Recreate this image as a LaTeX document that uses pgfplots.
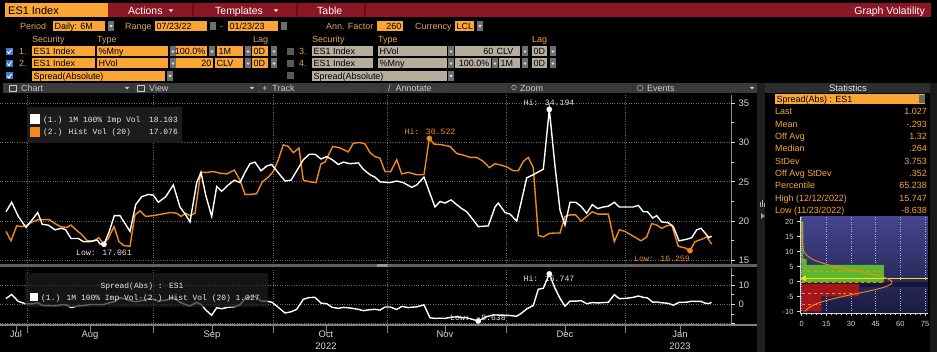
\documentclass[border=0pt]{standalone}
\usepackage{pgfplots}
\pgfplotsset{compat=1.18}
\usepackage{fontspec}
\setmainfont{Liberation Sans}
\newfontfamily\monof{Liberation Mono}
\definecolor{bborange}{HTML}{FBA534}
\definecolor{bbred}{HTML}{8B1626}
\definecolor{bbredsep}{HTML}{6A0E1A}
\definecolor{bbtan}{HTML}{B6AD9C}
\definecolor{bbtool}{HTML}{3A3A3A}
\definecolor{bblabel}{HTML}{E2A552}
\definecolor{bbline}{HTML}{F08A1C}
\definecolor{bbgrid}{HTML}{6A6A6A}
\definecolor{bbtickc}{HTML}{D8D8D8}
\definecolor{bbcheck}{HTML}{3C7CD6}
\definecolor{ddgrey}{HTML}{6E6E6E}
\definecolor{ddtri}{HTML}{E0E0E0}
\definecolor{histtop}{HTML}{45458E}
\definecolor{histbot}{HTML}{1B1B42}
\definecolor{histband}{HTML}{16163E}
\definecolor{bbgreen}{HTML}{5DB82E}
\definecolor{bbdred}{HTML}{A3161C}
\definecolor{bbyellow}{HTML}{F2E21A}
\newcommand\fs[1]{\fontsize{#1}{#1}\selectfont}
\newcommand\bxl[5]{\fill[#4] (#1,#3-5) rectangle (#2,#3+5); \node[anchor=base west,inner sep=0pt,text=black,font=\fs{9}] at (#1+1.5,#3+3.3) {#5};}
\newcommand\bxr[5]{\fill[#4] (#1,#3-5) rectangle (#2,#3+5); \node[anchor=base east,inner sep=0pt,text=black,font=\fs{9}] at (#2-1.5,#3+3.3) {#5};}
\newcommand\dd[2]{\fill[ddgrey] (#1,#2-5) rectangle (#1+6,#2+5); \fill[ddtri] (#1+1.3,#2-0.8) -- (#1+4.7,#2-0.8) -- (#1+3,#2+1.6) -- cycle;}
\newcommand\lbl[4]{\node[anchor=base west,inner sep=0pt,text=#4,font=\fs{9}] at (#1,#2+3.3) {#3};}
\newcommand\chk[2]{\fill[bbcheck] (#1,#2-3.5) rectangle (#1+7,#2+3.5); \draw[white,line width=0.9] (#1+1.4,#2) -- (#1+3,#2+2) -- (#1+5.6,#2-2);}
\newcommand\gchk[2]{\fill[black!65!white] (#1,#2-3.5) rectangle (#1+7,#2+3.5);}
\newcommand\tri[3]{\fill[#3] (#1-2.2,#2-1.1) -- (#1+2.2,#2-1.1) -- (#1,#2+1.5) -- cycle;}
\newcommand\stat[3]{\node[anchor=base west,inner sep=0pt,font=\fs{9},text=bborange] at (775,#1) {#2};
  \node[anchor=base east,inner sep=0pt,font=\fs{9},text=bborange] at (927,#1) {#3};}
\begin{document}
\begin{tikzpicture}
\useasboundingbox (0,0) rectangle (937bp,352bp);
\fill[black] (0,0) rectangle (937bp,352bp);
\begin{scope}[x=1bp,y=-1bp,yshift=352bp]
% row 1
\fill[bborange] (5,3) rectangle (108,17.5);
\node[anchor=base west,inner sep=0pt,font=\fs{11}] at (8,14.3) {ES1 Index};
\fill[bbred] (108,3) rectangle (931,17.5);
\foreach \s in {193,297,365} \draw[bbredsep,line width=1.2] (\s,3) -- (\s,17.5);
\node[anchor=base west,inner sep=0pt,font=\fs{10.5},text=white] at (128,14.2) {Actions};
\tri{171}{10.5}{white}
\node[anchor=base west,inner sep=0pt,font=\fs{10.5},text=white] at (215,14.2) {Templates};
\tri{276}{10.5}{white}
\node[anchor=base west,inner sep=0pt,font=\fs{10.5},text=white] at (317,14.2) {Table};
\node[anchor=base east,inner sep=0pt,font=\fs{10.5},text=white] at (925,14.2) {Graph Volatility};
% row 2
\lbl{20}{26}{Period}{bblabel}
\bxl{53}{105}{26}{bborange}{Daily: 6M}
\dd{108}{26}
\lbl{125}{26}{Range}{bblabel}
\bxl{155}{207}{26}{bborange}{07/23/22}
\fill[ddgrey] (210,22) rectangle (216,30);
\node[anchor=base,inner sep=0pt,font=\fs{9},text=bblabel] at (221.5,29.3) {-};
\bxl{228}{278}{26}{bborange}{01/23/23}
\fill[ddgrey] (281,22) rectangle (287,30);
\lbl{326}{26}{Ann. Factor}{bblabel}
\bxr{377}{403}{26}{bborange}{260}
\lbl{415}{26}{Currency}{bblabel}
\bxl{455}{474}{26}{bborange}{LCL}
\dd{477}{26}
% row 3
\lbl{32}{39}{Security}{bblabel}
\lbl{97}{39}{Type}{bblabel}
\lbl{253}{39}{Lag}{bblabel}
\lbl{312}{39}{Security}{bblabel}
\lbl{378}{39}{Type}{bblabel}
\lbl{532}{39}{Lag}{bborange}
% row 4
\chk{6}{51.5}
\lbl{19}{51.5}{1.}{bblabel}
\bxl{32}{95}{51.5}{bborange}{ES1 Index}
\bxl{97}{168}{51.5}{bborange}{\%Mny}
\dd{170}{51.5}
\bxr{176}{207}{51.5}{bborange}{100.0\%}
\dd{209}{51.5}
\bxl{217}{243}{51.5}{bborange}{1M}
\dd{245}{51.5}
\bxl{252}{268}{51.5}{bborange}{0D}
\dd{271}{51.5}
\gchk{287}{51.5}
\lbl{299}{51.5}{3.}{bblabel}
\bxl{312}{373}{51.5}{bbtan}{ES1 Index}
\bxl{378}{447}{51.5}{bbtan}{HVol}
\dd{448}{51.5}
\bxr{455}{495}{51.5}{bbtan}{60}
\bxl{495}{520}{51.5}{bbtan}{CLV}
\dd{522}{51.5}
\bxl{532}{547}{51.5}{bbtan}{0D}
\dd{550}{51.5}
% row 5
\chk{6}{63.5}
\lbl{19}{63.5}{2.}{bblabel}
\bxl{32}{95}{63.5}{bborange}{ES1 Index}
\bxl{97}{168}{63.5}{bborange}{HVol}
\dd{170}{63.5}
\bxr{176}{213}{63.5}{bborange}{20}
\bxl{215}{243}{63.5}{bborange}{CLV}
\dd{245}{63.5}
\bxl{252}{268}{63.5}{bborange}{0D}
\dd{271}{63.5}
\gchk{287}{63.5}
\lbl{299}{63.5}{4.}{bblabel}
\bxl{312}{373}{63.5}{bbtan}{ES1 Index}
\bxl{378}{447}{63.5}{bbtan}{\%Mny}
\dd{448}{63.5}
\bxr{455}{491}{63.5}{bbtan}{100.0\%}
\dd{492}{63.5}
\bxl{499}{520}{63.5}{bbtan}{1M}
\dd{522}{63.5}
\bxl{532}{547}{63.5}{bbtan}{0D}
\dd{550}{63.5}
% row 6
\chk{6}{76}
\bxl{32}{165}{76}{bborange}{Spread(Absolute)}
\dd{167}{76}
\gchk{287}{76}
\bxl{312}{447}{76}{bbtan}{Spread(Absolute)}
\dd{448}{76}
% toolbar
\fill[bbtool] (3,83) rectangle (757,93);
\foreach \s in {132,256,382,508,633} \draw[black!80,line width=1.5] (\s,83) -- (\s,93);
\draw[black!20] (9.5,85) rectangle (16.5,91);
\node[anchor=base west,inner sep=0pt,font=\fs{9},text=black!20] at (21,91.3) {Chart};
\tri{127}{88}{black!20}
\draw[black!20] (137.5,85) rectangle (144.5,91);
\node[anchor=base west,inner sep=0pt,font=\fs{9},text=black!20] at (149,91.3) {View};
\tri{252}{88}{black!20}
\node[anchor=base west,inner sep=0pt,font=\fs{9},text=black!20] at (262,91.3) {+ \ Track};
\node[anchor=base west,inner sep=0pt,font=\fs{9},text=black!20] at (388,91.3) {/ \ Annotate};
\draw[black!20] (514,87.5) circle (2.3);
\node[anchor=base west,inner sep=0pt,font=\fs{9},text=black!20] at (520,91.3) {Zoom};
\draw[black!20] (640,88) circle (3);
\node[anchor=base west,inner sep=0pt,font=\fs{9},text=black!20] at (647,91.3) {Events};
\tri{752}{88}{black!20}
% right columns
\fill[black!88!white] (757,83) rectangle (765,352);
\fill[black!90!white] (930,83) rectangle (937,352);
\fill[black!82!white] (765,83) rectangle (930,93);
\node[anchor=base,inner sep=0pt,font=\fs{9.5},text=black!10] at (848,91.5) {Statistics};
\bxl{775}{925}{99.5}{bborange}{Spread(Abs) : ES1}
\fill[black!60!white] (919,95.5) rectangle (925,103.5);
\fill[white!70!black] (760,202) rectangle (761.2,207);
\fill[white!70!black] (762,200) rectangle (763.2,207);
\fill[white!70!black] (764,203) rectangle (765.2,207);
\fill[white!60!black] (761,213) -- (765,216) -- (761,219) -- cycle;
% divider bar
\fill[black!62!white] (0,264) rectangle (757,267.5);
\fill[black!40!white] (377,264) rectangle (388,267.5);
\draw[black!50!white,line width=1.2] (0,325) -- (757,325);
\draw[black!45!white,line width=0.9] (731,95) -- (731,264);
\draw[black!45!white,line width=0.9] (731,268) -- (731,325);
% stats
\stat{115}{Last}{1.027}
\stat{127.3}{Mean}{-.293}
\stat{139.7}{Off Avg}{1.32}
\stat{152}{Median}{.264}
\stat{164.3}{StDev}{3.753}
\stat{176.7}{Off Avg StDev}{.352}
\stat{189}{Percentile}{65.238}
\stat{201.3}{High (12/12/2022)}{15.747}
\stat{213.7}{Low (11/23/2022)}{-8.638}
\end{scope}

% ---------- main chart ----------
\begin{axis}[
  at={(0bp,87bp)}, anchor=south west,
  width=731bp, height=170bp, scale only axis,
  xmin=0, xmax=731, ymin=14.43, ymax=36.03,
  axis line style={draw=none},
  ytick={15,20,25,30,35}, minor ytick={17.5,22.5,27.5,32.5},
  ytick pos=right, yticklabel pos=right,
  tick align=outside, major tick length=4bp, minor tick length=2.5bp,
  every tick/.style={bbtickc,line width=0.8bp},
  yticklabel style={font=\fs{9.5},text=bbtickc},
  xtick={27,153,273,387,506,625}, xticklabels={},
  major x tick style={draw=none},
  grid=major, major grid style={bbgrid,dotted,line width=0.7bp},
  /pgf/number format/assume math mode=true,
]
\addplot[bbline,line width=1.4bp] coordinates {
(6,18.7) (11,17.5) (16.7,19.4) (21.7,19.3) (26.7,19.5) (32.3,19.9) (38.3,20.2) (43.3,20.2) (49,20.2) (55,19.7) (60.7,19.3) (66.7,19.2) (71,19.5) (76,18.9) (81.7,18.3) (87.3,17.5) (93.3,17.5) (99,17.9) (103.3,17.1) (108.3,17.8) (114,19.3) (119,17.4) (124,16.9) (130,16.8) (135,20.8) (140,21.3) (145.7,20.6) (153.3,20.7) (161.7,20.9) (170.7,21.1) (176.7,21.0) (181,20.6) (185.7,21.0) (190,20.7) (195,21.0) (200.7,26.2) (206.7,26.2) (213.3,26.3) (220,26.1) (226.7,26.0) (234.3,26.5) (240,25.2) (245,23.4) (251,23.4) (256.7,23.5) (262.3,25.0) (268.3,25.6) (273.3,26.3) (278.3,27.8) (283.3,29.7) (288.3,29.5) (293.3,28.7) (299,29.3) (303.3,25.2) (310,25.0) (316,24.9) (321,27.3) (325,27.5) (332.7,29.5) (340,29.3) (348.3,28.8) (353.3,29.9) (360,30.0) (365,29.8) (370,28.7) (375,28.2) (380,28.0) (385,26.3) (390.7,26.3) (396.7,27.8) (401.7,26.0) (408.3,26.2) (416.7,25.9) (424,25.9) (429.3,30.522) (434,29.8) (441.7,29.7) (450,29.5) (456.7,28.6) (463.3,28.4) (470,28.1) (476.7,28.1) (483.3,27.6) (489.3,26.8) (495,27.3) (501.7,27.1) (506.7,26.9) (513.3,26.4) (518.3,26.4) (523.3,27.6) (528.3,28.1) (533.3,26.8) (538.3,18.2) (543.3,18.0) (549.3,18.44) (555,18.5) (560,18.5) (565,20.6) (570,20.8) (575.7,20.8) (581,20.0) (586.7,20.6) (592.3,21.2) (597.7,20.9) (603,20.9) (608.3,20.9) (614.3,17.4) (619.3,18.9) (625,18.7) (631.7,18.2) (641,17.5) (646.7,18.0) (651.7,19.7) (656.7,19.5) (661.7,19.1) (666.7,19.4) (671.7,19.5) (678.3,16.8) (685,16.6) (690,16.259) (695,17.4) (701.7,17.7) (706.7,18.0) (711.7,17.076)
};
\addplot[white,line width=1.4bp] coordinates {
(6,21.2) (11.7,22.4) (18.3,20.6) (26,19.2) (31.7,20.1) (37.7,21.1) (42.3,19.6) (48.3,19.5) (55,18.9) (61.7,19.1) (65.7,18.9) (71,17.8) (78.3,17.8) (83.3,17.4) (90,17.4) (97.3,17.6) (100,17.1) (104,17.061) (109.3,18.7) (114.3,20.7) (120,20.7) (125,19.7) (130,18.7) (135.7,22.1) (141.7,23.1) (148.3,23.4) (153.3,23.3) (158.3,22.4) (165.7,23.1) (173.3,24.6) (180,21.8) (185.7,20.8) (190,19.9) (196.7,24.9) (201,26.2) (205.7,23.3) (211.7,20.6) (216.7,24.4) (221.7,23.8) (228.3,24.6) (234.3,25.2) (240,24.9) (245,26.2) (250,27.3) (255,27.5) (261,26.4) (266.7,27.0) (271.7,27.2) (276.7,26.4) (285,25.1) (291,25.2) (296.7,26.4) (303.3,27.8) (309.3,28.5) (315,28.5) (321,27.9) (326.7,28.2) (332.3,27.8) (338.3,27.2) (343.3,27.5) (350,27.3) (358.3,27.4) (363.3,26.6) (370,25.9) (375,25.6) (380,25.0) (390,24.9) (396.7,25.1) (403.3,24.9) (411.7,24.3) (416.7,24.6) (424,25.6) (430,23.5) (435,21.8) (440,22.5) (445,22.3) (451,22.7) (456.7,22.1) (461.7,21.6) (466.7,21.2) (471.7,20.4) (478.3,19.3) (488.3,19.4) (495,21.8) (498.3,22.3) (505,21.1) (510,20.9) (516.7,20.0) (521.7,22.7) (526.7,25.5) (533.3,25.9) (543.3,26.6) (549.3,34.194) (555,27.0) (560,21.4) (565,19.5) (570,22.4) (575.7,22.4) (581,21.9) (586.7,21.0) (592.3,22.1) (597.7,21.6) (603.3,21.8) (608.3,21.9) (614.3,22.4) (619.3,21.8) (626,21.8) (633.3,21.8) (638.3,22.0) (643.3,21.2) (647.5,21.2) (652.7,20.4) (656.7,20.7) (661.7,19.9) (668.3,19.8) (673.3,19.3) (679,17.5) (686.7,17.7) (691.7,17.9) (696.7,18.9) (701,19.1) (705,18.5) (709,17.9) (711.5,18.103)
};
\addplot[only marks,mark=*,mark size=2.6bp,white] coordinates {(104,17.061) (549.3,34.194)};
\addplot[only marks,mark=*,mark size=2.6bp,bbline] coordinates {(429.3,30.522) (690,16.259)};
\node[font=\monof\fs{8.2},text=black!10,inner sep=0pt] at (axis cs:104,15.95) {Low: 17.061};
\node[font=\monof\fs{8.2},text=bbline,inner sep=0pt] at (axis cs:430,31.33) {Hi: 30.522};
\node[font=\monof\fs{8.2},text=black!10,inner sep=0pt] at (axis cs:549,35.08) {Hi: 34.194};
\node[font=\monof\fs{8.2},text=bbline,inner sep=0pt] at (axis cs:662,15.19) {Low: 16.259};
\end{axis}

% ---------- spread panel ----------
\begin{axis}[
  at={(0bp,27bp)}, anchor=south west,
  width=731bp, height=57bp, scale only axis,
  xmin=0, xmax=731, ymin=-10.73, ymax=18.81,
  axis line style={draw=none},
  ytick={-10,0,10}, yticklabels={,0,10}, minor ytick={-5,5,15},
  ytick pos=right, yticklabel pos=right,
  xtick={27,153,273,387,506,625}, xticklabels={},
  xtick pos=left,
  tick align=outside, major tick length=4bp, minor tick length=2.5bp,
  every tick/.style={bbtickc,line width=0.8bp},
  major x tick style={black!50!white,line width=0.8bp},
  x tick style={/pgfplots/major tick length=8bp},
  yticklabel style={font=\fs{9.5},text=bbtickc},
  extra x ticks={16,90,212,326,445,565,680},
  extra x tick labels={Jul,Aug,Sep,{Oct\\2022},Nov,Dec,{Jan\\2023}},
  extra x tick style={grid=none,major tick length=0pt,
     xticklabel style={font=\fontsize{9.5}{12}\selectfont,text=bbtickc,align=center,yshift=-2.5bp}},
  grid=major, major grid style={bbgrid,dotted,line width=0.7bp},
  /pgf/number format/assume math mode=true,
]
\addplot[white,line width=1.4bp] coordinates {
(6,3.0) (11.7,5.1) (18.3,1.5) (26,0.2) (31.7,0.2) (37.7,0.9) (42.3,-0.6) (48.3,-0.7) (55,-0.8) (61.7,-0.2) (66.7,-0.3) (71,-1.7) (78.3,-0.8) (83.3,-0.7) (90,-0.1) (97.3,-0.1) (104,-0.1) (109.3,0.8) (114.3,1.4) (120,3.4) (125,2.8) (130,1.9) (135.7,1.3) (141.7,1.9) (148.3,2.8) (153.3,2.6) (158.3,1.6) (165.7,2.1) (173.3,3.5) (180,1.1) (185.7,-0.2) (190,-0.8) (196.7,1.0) (201,0.0) (205.7,-2.9) (211.7,-5.7) (216.7,-1.8) (221.7,-2.3) (228.3,-1.5) (234.3,-1.3) (240,-0.3) (245,2.8) (250,3.9) (255,4.0) (261,1.7) (266.7,1.6) (271.7,1.1) (276.7,-0.9) (285,-4.5) (291,-3.9) (296.7,-2.6) (303.3,2.6) (309.3,3.5) (315,3.6) (321,0.6) (326.7,0.3) (332.3,-1.6) (338.3,-2.1) (343.3,-1.6) (350,-1.9) (358.3,-2.6) (363.3,-3.3) (370,-2.8) (375,-2.6) (380,-3.0) (385,-1.4) (390,-1.4) (396.7,-2.7) (401.7,-1.1) (408.3,-1.7) (416.7,-1.3) (424,-0.3) (430,-7.0) (435,-7.3) (440,-7.2) (445,-7.3) (451,-6.7) (456.7,-6.5) (461.7,-6.8) (466.7,-7.0) (471.7,-7.7) (478.3,-8.638) (486.7,-6.4) (493.3,-5.5) (505,-5.7) (510,-5.8) (516.7,-6.2) (521.7,-4.5) (526.7,-2.4) (533.3,-0.6) (538.3,7.8) (543.3,8.3) (549.3,15.747) (555,8.3) (560,3.1) (565,-1.0) (570,1.7) (575.7,1.6) (581,1.9) (586.7,0.3) (592.3,0.9) (597.7,0.7) (603.3,0.9) (608.3,1.0) (614.3,5.0) (619.3,2.9) (626,3.1) (633.3,3.6) (638.3,4.3) (643.3,3.6) (647.5,3.3) (652.7,1.1) (656.7,1.2) (661.7,0.8) (668.3,0.5) (673.3,-0.5) (679,1.0) (686.7,1.1) (691.7,1.6) (696.7,1.5) (701,1.5) (705,0.6) (709,0.4) (711.5,1.027)
};
\addplot[only marks,mark=*,mark size=2.6bp,white] coordinates {(478.3,-8.638) (549.3,15.747)};
\node[font=\monof\fs{8.2},text=black!10,inner sep=0pt] at (axis cs:549,13.1) {Hi: 15.747};
\node[font=\monof\fs{8.2},text=black!10,inner sep=0pt] at (axis cs:478,-7.1) {Low: -8.638};
\end{axis}

% ---------- histogram ----------
\begin{axis}[
  at={(800bp,39bp)}, anchor=south west,
  width=128bp, height=96bp, scale only axis,
  xmin=-1, xmax=76.8, ymin=-10.5, ymax=21.5,
  axis background/.style={top color=histtop,bottom color=histbot},
  axis x line*=bottom, axis y line*=left,
  axis line style={bbtickc,line width=0.6bp},
  xtick={0,15,...,75}, ytick={-10,-5,...,20},
  minor x tick num=4,
  tick align=outside, major tick length=3bp, minor tick length=1.8bp,
  every tick/.style={bbtickc,line width=0.6bp},
  ticklabel style={font=\fs{7.5},text=bbtickc},
  xticklabel style={yshift=-1.5bp},
  xmajorgrids, major grid style={white!60!histtop,dotted,line width=0.5bp},
  /pgf/number format/assume math mode=true,
]
\addplot[xbar interval, fill=histband, draw=none] coordinates {(76.8,-1.9) (76.8,-0.3)};
\addplot[xbar interval, fill=bbdred, draw=none] coordinates {(12,-10) (35,-5) (35,-0.8)};
\addplot[xbar interval, fill=bbgreen, draw=none] coordinates {(50,-0.3) (3,5.5) (1,7.5) (1,20)};
\addplot[bbyellow,line width=1.6bp] coordinates {(-1,1.027) (76.8,1.027)};
\addplot[bbline,dashed,line width=0.8bp] coordinates {(0,7.2) (3,7.2)};
\addplot[bbline,dashed,line width=0.8bp] coordinates {(0,3.46) (50,3.46)};
\addplot[bbline,dashed,line width=0.8bp] coordinates {(0,-0.29) (50,-0.29)};
\addplot[bbline,dashed,line width=0.8bp] coordinates {(0,-4.05) (35,-4.05)};
\addplot[bbline,dashed,line width=0.8bp] coordinates {(0,-7.8) (12,-7.8)};
\addplot[bbline,line width=0.9bp,smooth] coordinates {(0.1,20) (0.3,15) (1.3,10) (4.8,8) (8.3,7) (13.5,6) (20.4,5) (28.6,4) (37.5,3) (45.7,2) (51.9,1) (54.8,0) (54.0,-1) (49.6,-2) (42.4,-3) (33.7,-4) (25.0,-5) (17.3,-6) (11.1,-7) (6.7,-8) (3.7,-9) (1.9,-10)};
\addplot[only marks,mark=triangle*,mark options={rotate=90},mark size=3bp,bbyellow] coordinates {(1.5,1.027)};
\end{axis}

% ---------- legends ----------
\begin{scope}[x=1bp,y=-1bp,yshift=352bp]
\fill[black!89!white] (27,107) rectangle (182,143);
\fill[white] (30,114) rectangle (40,124);
\fill[bbline] (30,127) rectangle (40,137);
\node[anchor=base west,inner sep=0pt,font=\monof\fs{8}] at (43,122.3) {\textcolor{black!8}{(1.) 1M 100\% Imp Vol}};
\node[anchor=base east,inner sep=0pt,font=\monof\fs{8},text=black!8] at (178,122.3) {18.103};
\node[anchor=base west,inner sep=0pt,font=\monof\fs{8},text=black!8] at (43,135) {(2.) Hist Vol (20)};
\node[anchor=base east,inner sep=0pt,font=\monof\fs{8},text=black!8] at (178,135) {17.076};
\fill[black!88!white,opacity=0.7] (25,273) rectangle (268,307);
\node[anchor=base,inner sep=0pt,font=\monof\fs{8},text=black!8] at (142,288.5) {Spread(Abs) : ES1};
\fill[white] (30,293) rectangle (38,301);
\node[anchor=base west,inner sep=0pt,font=\monof\fs{8},text=black!8] at (41,300.5) {(1.) 1M 100\% Imp Vol-(2.) Hist Vol (20) 1.027};
\end{scope}
\end{tikzpicture}
\end{document}
